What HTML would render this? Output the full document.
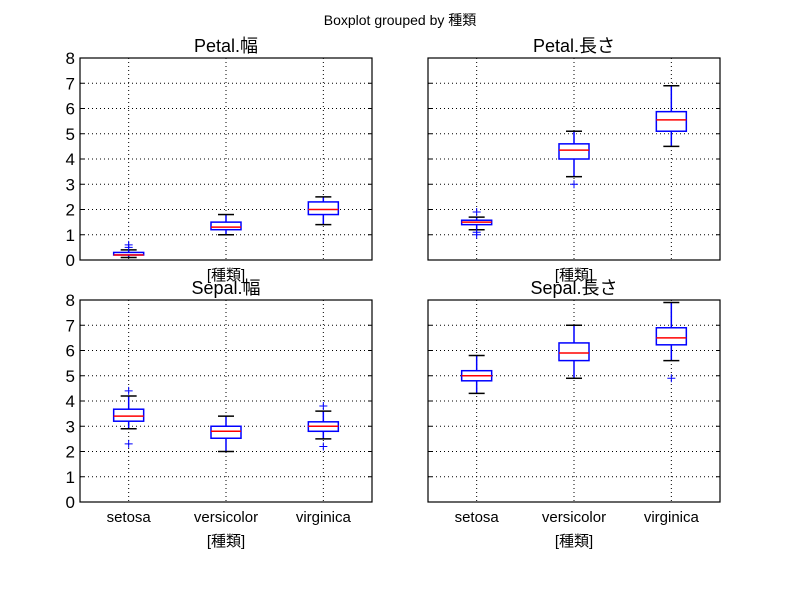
<!DOCTYPE html>
<html><head><meta charset="utf-8"><style>
body{margin:0;background:#fff}
text{font-family:"Liberation Sans","Noto Sans CJK JP",sans-serif}
</style></head><body>
<svg id="c" width="800" height="590" xmlns="http://www.w3.org/2000/svg">
<rect width="800" height="590" fill="#fff"/>
<text x="400" y="25" font-size="14" text-anchor="middle">Boxplot grouped by 種類</text>
</svg>
<script>
const categories=["setosa","versicolor","virginica"];
const panelTitles=["Petal.幅","Petal.長さ","Sepal.幅","Sepal.長さ"];
const yTicks=[0,1,2,3,4,5,6,7,8];
// per panel per category: [lowWhisker,q1,median,q3,highWhisker]
const petalWidth=[[0.1,0.2,0.2,0.3,0.4],[1.0,1.2,1.3,1.5,1.8],[1.4,1.8,2.0,2.3,2.5]];
const petalLength=[[1.2,1.4,1.5,1.575,1.7],[3.3,4.0,4.35,4.6,5.1],[4.5,5.1,5.55,5.875,6.9]];
const sepalWidth=[[2.9,3.2,3.4,3.675,4.2],[2.0,2.525,2.8,3.0,3.4],[2.5,2.8,3.0,3.175,3.6]];
const sepalLength=[[4.3,4.8,5.0,5.2,5.8],[4.9,5.6,5.9,6.3,7.0],[5.6,6.225,6.5,6.9,7.9]];
const petalWidthFliers=[[0.5,0.6],[],[]];
const petalLengthFliers=[[1.0,1.1,1.9],[3.0],[]];
const sepalWidthFliers=[[2.3,4.4],[],[2.2,3.8]];
const sepalLengthFliers=[[],[],[4.9]];
const panels=[
 {x:80,y:58,stats:petalWidth,fl:petalWidthFliers,showY:true,showX:false,name:"petal-width"},
 {x:428,y:58,stats:petalLength,fl:petalLengthFliers,showY:false,showX:false,name:"petal-length"},
 {x:80,y:300,stats:sepalWidth,fl:sepalWidthFliers,showY:true,showX:true,name:"sepal-width"},
 {x:428,y:300,stats:sepalLength,fl:sepalLengthFliers,showY:false,showX:true,name:"sepal-length"}];
const W=292,H=202,NS="http://www.w3.org/2000/svg",svg=document.getElementById('c');
function mk(t,a,p){const e=document.createElementNS(NS,t);for(const k in a)e.setAttribute(k,a[k]);(p||svg).appendChild(e);return e;}
panels.forEach((P,pi)=>{
 const g=mk('g',{});
 
 
 const sx=i=>P.x+(i+0.5)*W/3, sy=v=>P.y+H-v/8*H;
 yTicks.forEach(v=>{
  if(v>0&&v<8){const l=mk('line',{x1:P.x,x2:P.x+W,y1:sy(v),y2:sy(v),stroke:'#000','stroke-width':1,'stroke-dasharray':'1,3'},g);
  }
  mk('line',{x1:P.x,x2:P.x+4,y1:sy(v),y2:sy(v),stroke:'#000'},g);
  mk('line',{x1:P.x+W-4,x2:P.x+W,y1:sy(v),y2:sy(v),stroke:'#000'},g);
  if(P.showY){const t=mk('text',{x:P.x-5,y:sy(v)+6,'font-size':17,'text-anchor':'end'},g);t.textContent=v;
  }
 });
 categories.forEach((c,i)=>{
  const x=sx(i);
  const l=mk('line',{x1:x,x2:x,y1:P.y,y2:P.y+H,stroke:'#000','stroke-dasharray':'1,3'},g);
  
  if(P.showX){const t=mk('text',{x:x,y:P.y+H+20,'font-size':15,'text-anchor':'middle'},g);t.textContent=c;
  }
  const s=P.stats[i],bg=mk('g',{},g);
  
  
  mk('line',{x1:x,x2:x,y1:sy(s[0]),y2:sy(s[1]),stroke:'#00f','stroke-width':1.5},bg);
  mk('line',{x1:x,x2:x,y1:sy(s[3]),y2:sy(s[4]),stroke:'#00f','stroke-width':1.5},bg);
  mk('line',{x1:x-8,x2:x+8,y1:sy(s[0]),y2:sy(s[0]),stroke:'#000','stroke-width':1.5},bg);
  mk('line',{x1:x-8,x2:x+8,y1:sy(s[4]),y2:sy(s[4]),stroke:'#000','stroke-width':1.5},bg);
  mk('rect',{x:x-15,y:sy(s[3]),width:30,height:sy(s[1])-sy(s[3]),fill:'#fff',stroke:'#00f','stroke-width':1.5},bg);
  mk('line',{x1:x-15,x2:x+15,y1:sy(s[2]),y2:sy(s[2]),stroke:'#f00','stroke-width':1.5},bg);
  P.fl[i].forEach(v=>{
   const f=mk('path',{d:`M${x-4} ${sy(v)}h8M${x} ${sy(v)-4}v8`,stroke:'#00f','stroke-width':1},bg);
   
  });
 });
 const fr=mk('rect',{x:P.x,y:P.y,width:W,height:H,fill:'none',stroke:'#000','stroke-width':1.2},g);
 
 const tt=mk('text',{x:P.x+W/2,y:P.y-6,'font-size':18,'text-anchor':'middle'},g);tt.textContent=panelTitles[pi];
 
 const xl=mk('text',{x:P.x+W/2,y:P.showX?P.y+H+44:P.y+H+20,'font-size':15,'text-anchor':'middle'},g);xl.textContent='[種類]';
 
});
</script>
</body></html>
